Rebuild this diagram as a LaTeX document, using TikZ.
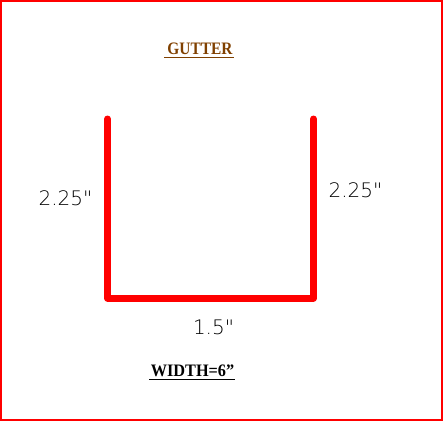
\documentclass[tikz,border=0pt]{standalone}
\usepackage{fontspec}
\usepackage{graphicx}
\newfontfamily\dimfont{DejaVu Sans ExtraLight}
\newfontfamily\titlefont{Liberation Serif}
\definecolor{gutterred}{RGB}{255,0,0}
\definecolor{titlebrown}{RGB}{128,64,0}
\newcommand{\narrowtext}[2]{\scalebox{#1}[1]{#2}}
\tikzset{
  frameline/.style={draw=gutterred,line width=2.4pt},
  gutterline/.style={draw=gutterred,line width=7pt,line cap=round,line join=round},
  dimlabel/.style={inner sep=0pt,anchor=center,text=black,font=\dimfont\fontsize{20}{20}\selectfont},
  titlelabel/.style={inner sep=0pt,anchor=center,font=\titlefont\bfseries\fontsize{17.5}{17.5}\selectfont},
  ruleline/.style={line width=1.1pt}
}
\begin{document}
\begin{tikzpicture}[x=1pt,y=-1pt]
\useasboundingbox (0,0) rectangle (443,421);
\draw[frameline] (1,1) rectangle (442,420);
\coordinate (tl) at (107.5,119);
\coordinate (bl) at (107.5,298);
\coordinate (br) at (313.5,298);
\coordinate (tr) at (313.5,119);
\draw[gutterline] (tl) -- (bl) -- (br) -- (tr);
\node[titlelabel,text=titlebrown] (gutter) at (200,49) {\narrowtext{.88}{GUTTER}};
\coordinate (g1) at (164,57.5);
\coordinate (g2) at (233.5,57.5);
\draw[ruleline,draw=titlebrown] (g1) -- (g2);
\node[dimlabel] (left) at (65.5,198) {2.25"};
\node[dimlabel] (right) at (355.5,190.5) {2.25"};
\node[dimlabel] (bottom) at (213.5,327) {1.5"};
\node[titlelabel,text=black] (width) at (192.5,371) {\narrowtext{.93}{WIDTH=6”}};
\coordinate (w1) at (149,379.5);
\coordinate (w2) at (235,379.5);
\draw[ruleline,draw=black] (w1) -- (w2);
\end{tikzpicture}
\end{document}
